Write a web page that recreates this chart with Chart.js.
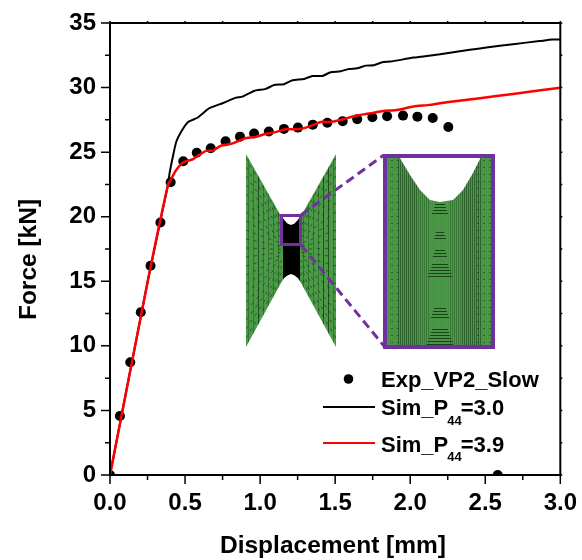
<!DOCTYPE html>
<html><head><meta charset="utf-8">
<style>html,body{margin:0;padding:0;background:#fff}canvas{display:block}</style>
<script src="https://cdn.jsdelivr.net/npm/chart.js@4"></script>
</head><body><canvas id="c" width="582" height="560"></canvas>
<script>
const expX=[0,0.066,0.135,0.205,0.27,0.336,0.404,0.488,0.578,0.671,0.77,0.866,0.96,1.058,1.159,1.252,1.351,1.448,1.55,1.647,1.748,1.846,1.952,2.048,2.15,2.254,2.583];
const expF=[0,4.57,8.73,12.6,16.2,19.55,22.67,24.3,24.95,25.3,25.85,26.2,26.45,26.6,26.8,26.9,27.13,27.27,27.4,27.55,27.7,27.78,27.83,27.75,27.65,26.95,0];
const sim30X=[0,0.253,0.386,0.397,0.419,0.442,0.475,0.519,0.585,0.662,0.75,0.839,0.883,0.96,1.038,1.093,1.159,1.216,1.293,1.349,1.415,1.47,1.536,1.591,1.647,1.702,1.757,1.813,1.868,2.022,2.199,2.397,2.508,2.685,2.861,2.947,3.0];
const sim30F=[0,15.1,22.46,23.37,24.66,25.82,26.6,27.32,27.68,28.4,28.79,29.22,29.3,29.74,29.9,30.2,30.26,30.57,30.67,30.9,30.9,31.19,31.26,31.44,31.49,31.7,31.73,31.96,32.01,32.32,32.58,32.92,33.1,33.36,33.6,33.72,33.72];
const sim39X=[0,0.253,0.386,0.404,0.44,0.486,0.552,0.596,0.64,0.684,0.74,0.817,0.894,0.971,1.038,1.104,1.17,1.25,1.327,1.404,1.47,1.558,1.647,1.735,1.823,1.912,2.022,2.132,2.243,2.464,2.685,3.0];
const sim39F=[0,15.1,22.46,22.85,23.6,24.2,24.45,24.8,25.1,25.12,25.5,25.68,26.05,26.18,26.42,26.55,26.78,26.78,26.98,27.34,27.34,27.57,27.83,28.01,28.19,28.27,28.53,28.66,28.87,29.18,29.51,29.98];
const xTickLabels=['0.0','0.5','1.0','1.5','2.0','2.5','3.0'];
const yTickLabels=['0','5','10','15','20','25','30','35'];
const legendLabels=['Exp_VP2_Slow','Sim_P','44','=3.0','=3.9'];
const xTitle='Displacement [mm]';
const yTitle='Force [kN]';
const xyPairs=(xs,ys)=>xs.map((x,i)=>({x,y:ys[i]}));
const FONT='"Liberation Sans", Arial, sans-serif';

function poly(ctx,pts){ctx.beginPath();pts.forEach((p,i)=>i?ctx.lineTo(p[0],p[1]):ctx.moveTo(p[0],p[1]));ctx.closePath();}

const insetPlugin={id:'inset',beforeDatasetsDraw(chart){
  const ctx=chart.ctx;ctx.save();
  const GREEN='#4b9a47',DARK='rgba(15,45,15,',PURPLE='#7030a0';
  // whole specimen mesh
  const mesh=[[246,154],[281,216],[285,221],[288,224],[291,225],[294,224],[297,221],[301,216],[336,154],[336,347],[301,283],[298,278],[294,275],[291,274],[288,275],[284,278],[281,283],[246,347]];
  ctx.save();poly(ctx,mesh);ctx.fillStyle=GREEN;ctx.fill();ctx.clip();
  ctx.lineWidth=1;
  for(let x=248;x<336;x+=5){
    const d=Math.abs(x-291);
    ctx.strokeStyle=DARK+(d<38&&d>28?'0.7)':'0.35)');
    ctx.beginPath();ctx.moveTo(x+.5,154);ctx.lineTo(x+.5,347);ctx.stroke();
  }
  ctx.setLineDash([3,5]);ctx.strokeStyle=DARK+'0.6)';
  for(let y=158;y<347;y+=9){
    const t=(y-250)/95;
    ctx.beginPath();ctx.moveTo(246,y);ctx.lineTo(282,250+t*30);ctx.stroke();
    ctx.beginPath();ctx.moveTo(336,y);ctx.lineTo(300,250+t*30);ctx.stroke();
  }
  ctx.setLineDash([]);
  // refined centre region
  ctx.fillStyle='#000';
  ctx.fillRect(283,216,17,68);
  ctx.restore();
  // zoomed mesh
  const z=[[385,155],[398,155],[410,175],[420,190],[430,200],[440,202],[453,200],[463,190],[473,173],[482,155],[493,155],[493,347],[385,347]];
  ctx.save();poly(ctx,z);ctx.fillStyle=GREEN;ctx.fill();ctx.clip();
  ctx.lineWidth=1;
  for(let x=386;x<493;x+=2){
    const d=Math.abs(x-439);
    const a=d>42?0.08:d>22?0.5:d>10?0.3:0.08;
    ctx.strokeStyle=DARK+a+')';
    ctx.beginPath();ctx.moveTo(x+.5,155);ctx.lineTo(x+.5,347);ctx.stroke();
  }
  ctx.strokeStyle=DARK+'0.8)';
  for(const [y0,n,w0] of [[204,4,5],[232,3,4],[250,3,5],[264,5,8],[308,4,6],[329,6,8]]){
    for(let i=0;i<n;i++){
      const y=y0+i*3,w=w0+i;
      ctx.beginPath();ctx.moveTo(440-w,y+.5);ctx.lineTo(440+w,y+.5);ctx.stroke();
    }
  }
  ctx.setLineDash([2,4]);ctx.strokeStyle=DARK+'0.5)';
  for(let y=160;y<347;y+=7){
    ctx.beginPath();ctx.moveTo(385,y+.5);ctx.lineTo(403,y+.5);ctx.stroke();
    ctx.beginPath();ctx.moveTo(477,y+.5);ctx.lineTo(493,y+.5);ctx.stroke();
  }
  ctx.setLineDash([]);
  ctx.restore();
  // boxes and connectors
  ctx.strokeStyle=PURPLE;ctx.lineWidth=3;
  ctx.strokeRect(281.5,215.5,19,29);
  ctx.lineWidth=4;
  ctx.strokeRect(385,156,108,191);
  ctx.lineWidth=3;ctx.setLineDash([9,5]);
  ctx.beginPath();ctx.moveTo(301,215);ctx.lineTo(384,155);ctx.stroke();
  ctx.beginPath();ctx.moveTo(301,245);ctx.lineTo(384,346);ctx.stroke();
  ctx.restore();
},
afterDatasetsDraw(chart){
  const ctx=chart.ctx,a=chart.chartArea,sx=chart.scales.x,sy=chart.scales.y;
  ctx.save();ctx.strokeStyle='#000';ctx.lineWidth=2;
  // frame
  ctx.strokeRect(a.left,a.top,a.right-a.left,a.bottom-a.top);
  ctx.lineWidth=1.5;
  ctx.beginPath();
  sx.ticks.forEach((t,i)=>{const p=sx.getPixelForValue(t.value);const L=i%2?5:9;
    ctx.moveTo(p,a.bottom);ctx.lineTo(p,a.bottom+L);
    ctx.moveTo(p,a.top);ctx.lineTo(p,a.top-2);});
  sy.ticks.forEach((t,i)=>{const p=sy.getPixelForValue(t.value);const L=i%2?5:9;
    ctx.moveTo(a.left,p);ctx.lineTo(a.left-L,p);
    ctx.moveTo(a.right,p);ctx.lineTo(a.right+2,p);});
  ctx.stroke();
  // legend
  ctx.fillStyle='#000';ctx.beginPath();ctx.arc(348.5,379,4.8,0,Math.PI*2);ctx.fill();
  ctx.lineWidth=2;ctx.strokeStyle='#000';ctx.beginPath();ctx.moveTo(323,407);ctx.lineTo(375,407);ctx.stroke();
  ctx.strokeStyle='#ff0000';ctx.beginPath();ctx.moveTo(323,443);ctx.lineTo(375,443);ctx.stroke();
  ctx.textBaseline='alphabetic';ctx.textAlign='left';
  const big='bold 22px '+FONT,small='bold 13px '+FONT;
  ctx.font=big;ctx.fillText(legendLabels[0],381,387);
  [[415,425,legendLabels[3]],[452,461,legendLabels[4]]].forEach(([b,s,tail])=>{
    ctx.font=big;ctx.fillText(legendLabels[1],381,b);
    const w=ctx.measureText(legendLabels[1]).width;
    ctx.font=small;ctx.fillText(legendLabels[2],381+w-1,s);
    const w2=ctx.measureText(legendLabels[2]).width;
    ctx.font=big;ctx.fillText(tail,381+w+w2-2,b);
  });
  // axis titles
  ctx.font='bold 24.5px '+FONT;ctx.textAlign='center';
  ctx.fillText(xTitle,333,553);
  ctx.translate(36,259.5);ctx.rotate(-Math.PI/2);ctx.fillText(yTitle,0,0);
  ctx.restore();
}};

new Chart(document.getElementById('c'),{
  type:'scatter',
  data:{datasets:[
    {label:'Sim_P44=3.9',data:xyPairs(sim39X,sim39F),showLine:true,borderColor:'#ff0000',borderWidth:2.5,pointRadius:0,tension:0.2,clip:2},
    {label:'Sim_P44=3.0',data:xyPairs(sim30X,sim30F),showLine:true,borderColor:'#000',borderWidth:2,pointRadius:0,tension:0.2,clip:2},
    {label:'Exp_VP2_Slow',data:xyPairs(expX,expF),showLine:false,pointRadius:5,pointBackgroundColor:'#000',pointBorderColor:'#000',pointBorderWidth:0,clip:0}
  ]},
  options:{
    responsive:false,animation:false,devicePixelRatio:1,
    layout:{padding:{left:0,top:23,right:19,bottom:0}},
    plugins:{legend:{display:false},tooltip:{enabled:false}},
    scales:{
      x:{type:'linear',min:0,max:3,
        afterBuildTicks(s){s.ticks=[];for(let i=0;i<=12;i++)s.ticks.push({value:i*0.25});},
        afterFit(s){s.height=85;},
        grid:{drawOnChartArea:false,tickColor:'transparent',tickLength:9},border:{display:false},
        ticks:{autoSkip:false,maxRotation:0,padding:5,color:'#000',font:{family:FONT,size:24,weight:'bold'},
          callback(v,i){return i%2?'':xTickLabels[i/2];}}},
      y:{type:'linear',min:0,max:35,
        afterBuildTicks(s){s.ticks=[];for(let i=0;i<=14;i++)s.ticks.push({value:i*2.5});},
        afterFit(s){s.width=110;},
        grid:{drawOnChartArea:false,tickColor:'transparent',tickLength:9},border:{display:false},
        ticks:{autoSkip:false,padding:5,color:'#000',font:{family:FONT,size:24,weight:'bold'},
          callback(v,i){return i%2?'':yTickLabels[i/2];}}}
    }
  },
  plugins:[insetPlugin]
});
</script></body></html>
